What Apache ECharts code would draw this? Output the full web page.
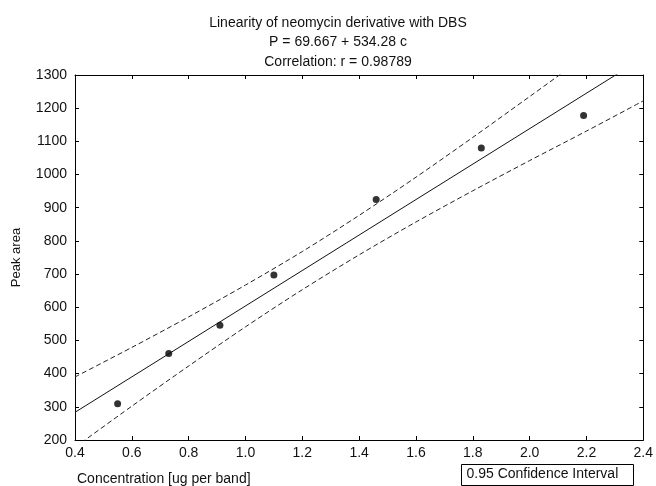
<!DOCTYPE html>
<html>
<head>
<meta charset="utf-8">
<script src="https://cdn.jsdelivr.net/npm/echarts@6/dist/echarts.min.js"></script>
<style>html,body{margin:0;padding:0;background:#fff;}#c{width:656px;height:486px;}</style>
</head>
<body>
<div id="c"></div>
<script>
// ---- data ----
var titleLines = ['Linearity of neomycin derivative with DBS', 'P = 69.667 + 534.28 c', 'Correlation: r = 0.98789'];
var concentration = [0.55, 0.73, 0.91, 1.10, 1.46, 1.83, 2.19];
var peakArea = [309, 461, 546, 697, 925, 1080, 1178];
var fitX = [0.4, 2.4];
var fitY = [283.4, 1352.0];
var bandX = [0.4, 0.6, 0.8, 1.0, 1.2, 1.4, 1.6, 1.8, 2.0, 2.2, 2.4];
var bandUpper = [390, 479, 571, 667, 768, 877, 992, 1112, 1235, 1359, 1484];
var bandLower = [178, 302, 423, 541, 653, 758, 857, 951, 1042, 1131, 1222];
var xMin = 0.4, xMax = 2.4, xStep = 0.2;
var yMin = 200, yMax = 1300, yStep = 100;
var xName = 'Concentration [ug per band]';
var yName = 'Peak area';
var legendText = '0.95 Confidence Interval';

function pairs(xs, ys) { return xs.map(function (x, i) { return [x, ys[i]]; }); }

var FONT = '"Liberation Sans", Arial, Helvetica, sans-serif';
var chart = echarts.init(document.getElementById('c'), null, { renderer: 'canvas' });

var axisLine = { show: true, lineStyle: { color: '#000', width: 1 } };
var tickIn = { show: true, inside: true, length: 4, lineStyle: { color: '#000', width: 1 } };

chart.setOption({
  backgroundColor: '#fff',
  animation: false,
  title: titleLines.map(function (t, i) {
    return { text: t, left: 333, top: 11 + i * 19.5, textAlign: 'center',
      textStyle: { fontFamily: FONT, fontSize: 14, fontWeight: 'normal', color: '#111' } };
  }),
  grid: { left: 75, right: 11, top: 75, bottom: 46, containLabel: false },
  xAxis: [{
    type: 'value', min: xMin, max: xMax, interval: xStep, position: 'bottom',
    axisLine: axisLine, axisTick: tickIn, splitLine: { show: false },
    axisLabel: { color: '#111', fontFamily: FONT, fontSize: 14, margin: 6,
      formatter: function (v) { return v.toFixed(1); } }
  }, {
    type: 'value', min: xMin, max: xMax, interval: xStep, position: 'top',
    axisLine: axisLine, axisTick: tickIn, splitLine: { show: false }, axisLabel: { show: false }
  }],
  yAxis: [{
    type: 'value', min: yMin, max: yMax, interval: yStep, position: 'left',
    axisLine: axisLine, axisTick: tickIn, splitLine: { show: false },
    axisLabel: { color: '#111', fontFamily: FONT, fontSize: 14, margin: 8,
      formatter: function (v) { return String(v); } },
    name: yName, nameLocation: 'middle', nameGap: 52, nameRotate: 90,
    nameTextStyle: { color: '#111', fontFamily: FONT, fontSize: 13 }
  }, {
    type: 'value', min: yMin, max: yMax, interval: yStep, position: 'right',
    axisLine: axisLine, axisTick: tickIn, splitLine: { show: false }, axisLabel: { show: false }
  }],
  series: [{
    type: 'line', name: 'Upper', data: pairs(bandX, bandUpper), smooth: 0.3, symbol: 'none', clip: true,
    lineStyle: { color: '#222', width: 1, type: [5, 3] }
  }, {
    type: 'line', name: 'Lower', data: pairs(bandX, bandLower), smooth: 0.3, symbol: 'none', clip: true,
    lineStyle: { color: '#222', width: 1, type: [5, 3] }
  }, {
    type: 'line', name: 'Fit', data: pairs(fitX, fitY), symbol: 'none', clip: true,
    lineStyle: { color: '#111', width: 1 }
  }, {
    type: 'scatter', name: 'Data', data: pairs(concentration, peakArea), symbol: 'circle', symbolSize: 7,
    itemStyle: { color: '#000' }
  }],
  graphic: [{
    type: 'text', left: 77, top: 472,
    style: { text: xName, fill: '#111', font: '14px ' + FONT }
  }, {
    type: 'group', left: 461, top: 464,
    children: [{
      type: 'rect', shape: { x: 0, y: 0, width: 172, height: 21 },
      style: { fill: '#fff', stroke: '#000', lineWidth: 1 }
    }, {
      type: 'text', x: 5, y: 3, style: { text: legendText, fill: '#111', font: '14px ' + FONT }
    }]
  }]
});
</script>
</body>
</html>
